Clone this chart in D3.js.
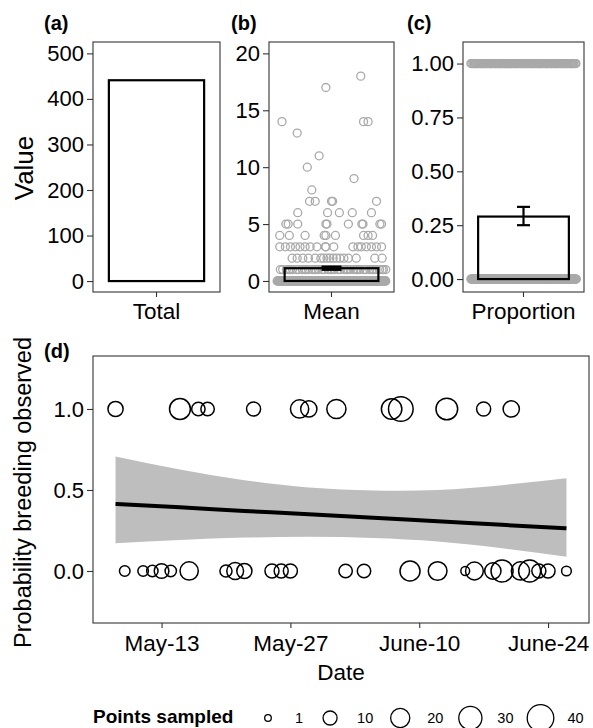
<!DOCTYPE html>
<html>
<head>
<meta charset="utf-8">
<script src="https://cdn.jsdelivr.net/npm/d3@7"></script>
<style>
  body { margin: 0; background: #fff; }
  svg { display: block; font-family: "Liberation Sans", Arial, Helvetica, sans-serif; }
</style>
</head>
<body>
<div id="figure"></div>
<script>
// ---- data ----
const totalCategory = ["Total"];
const totalValue = [441];

const meanCategory = ["Mean"];
const meanValue = [1.12];
const meanLow = [0.98];
const meanHigh = [1.26];

const propCategory = ["Proportion"];
const propValue = [0.29];
const propLow = [0.25];
const propHigh = [0.335];

// panel (b): the sparse points (value, jitter in -1..1 across the band)
const meanPointValues = [
  2,2,2,2,2,2,2,2,2,2,2,2,2,2,2,2,2,
  3,3,3,3,3,3,3,3,3,3,3,3,3,3,3,3,3,3,
  4,4,4,4,4,4,4,4,4,
  5,5,5,5,5,5,5,5,5,5,
  6,6,6,6,6,
  7,7,7,7,7,
  8, 9, 10, 11, 13, 14, 14, 14, 17, 18
];
const meanPointJitter = [
  -0.70,-0.61,-0.51,-0.41,-0.29,-0.19,-0.14,-0.08,-0.03,0.03,0.09,0.15,0.22,0.30,0.44,0.77,0.90,
  -0.92,-0.82,-0.73,-0.64,-0.56,-0.47,-0.38,-0.26,-0.11,-0.10,0.04,0.38,0.47,0.53,0.62,0.71,0.80,0.89,
  -0.92,-0.75,-0.47,-0.13,-0.10,0.07,0.57,0.65,0.73,
  -0.81,-0.77,-0.60,-0.10,-0.08,0.30,0.54,0.56,0.86,0.89,
  -0.60,-0.07,0.14,0.37,0.71,
  -0.39,-0.29,0.00,0.02,0.80,
  -0.35, 0.40, -0.43, -0.22, -0.61, -0.88, 0.57, 0.65, -0.10, 0.52
];
// panel (b): the crowded rows, as value and number of points
const meanDenseValues = [0, 1];
const meanDenseCounts = [250, 42];

// panel (c): breeding observed (1) or not (0), number of points
const propDenseValues = [0, 1];
const propDenseCounts = [313, 128];

// panel (d)
const yesDates = ["2016-05-08","2016-05-15","2016-05-17","2016-05-18","2016-05-23","2016-05-28","2016-05-29",
                  "2016-06-01","2016-06-07","2016-06-08","2016-06-13","2016-06-17","2016-06-20"];
const yesSampled = [12, 24, 9, 9, 10, 18, 14, 20, 23, 34, 26, 10, 14];
const noDates = ["2016-05-09","2016-05-11","2016-05-12","2016-05-13","2016-05-14","2016-05-16","2016-05-20",
                 "2016-05-21","2016-05-22","2016-05-25","2016-05-26","2016-05-27","2016-06-02","2016-06-04",
                 "2016-06-09","2016-06-12","2016-06-15","2016-06-16","2016-06-18","2016-06-19","2016-06-21",
                 "2016-06-22","2016-06-23","2016-06-24","2016-06-26"];
const noSampled = [5, 5, 6, 11, 6, 18, 7, 15, 12, 10, 10, 10, 9, 9, 22, 19, 3, 17, 14, 27, 18, 27, 10, 10, 4];

const fitDates = ["2016-05-08","2016-05-15","2016-05-22","2016-05-29","2016-06-05","2016-06-12","2016-06-19","2016-06-26"];
const fitProb = [0.414, 0.393, 0.371, 0.350, 0.328, 0.307, 0.285, 0.264];
const fitHigh = [0.706, 0.626, 0.560, 0.515, 0.497, 0.500, 0.530, 0.572];
const fitLow  = [0.171, 0.192, 0.206, 0.211, 0.204, 0.182, 0.140, 0.088];

const dateTicks = ["2016-05-13","2016-05-27","2016-06-10","2016-06-24"];
const sizeBreaks = [1, 10, 20, 30, 40];

// ---- layout ----
const largeur = 593, hauteur = 728;
const haut = {y0: 42, y1: 292};
const cadres = {
  a: {x0: 93, x1: 220},
  b: {x0: 269, x1: 394},
  c: {x0: 463, x1: 584}
};
const bas = {x0: 93, x1: 589, y0: 356, y1: 623};
const gris = "#a9a9a9";

const svg = d3.select("#figure").append("svg")
  .attr("width", largeur).attr("height", hauteur);

const parseDate = d3.timeParse("%Y-%m-%d");

// regular spread for the crowded rows (horizontal placement only)
const etaler = i => ((i * 0.6180339887 + 0.31) % 1) * 2 - 1;

function styliserAxe(g, taille) {
  g.select(".domain").remove();
  g.selectAll(".tick line").attr("stroke", "#333").attr("stroke-width", 1.1);
  g.selectAll(".tick text").attr("fill", "#000").style("font-size", taille + "px");
}

function cadre(x0, x1, y0, y1) {
  svg.append("rect")
    .attr("x", x0).attr("y", y0)
    .attr("width", x1 - x0).attr("height", y1 - y0)
    .attr("fill", "none").attr("stroke", "#333").attr("stroke-width", 1.1);
}

function etiquette(txt, x, y) {
  svg.append("text").attr("x", x).attr("y", y)
    .style("font-size", "20px").style("font-weight", "bold")
    .text(txt);
}

// builds one of the three top panels
function panneauHaut(p, categories, yDomaine, yTicks, yFormat) {
  const x = d3.scaleBand().domain(categories).range([p.x0, p.x1])
    .paddingInner(0.1).paddingOuter(0.15);
  const y = d3.scaleLinear().domain(yDomaine).range([haut.y1, haut.y0]);

  svg.append("g").attr("transform", `translate(${p.x0},0)`)
    .call(d3.axisLeft(y).tickValues(yTicks).tickFormat(yFormat).tickSize(6).tickPadding(3))
    .call(g => styliserAxe(g, 22));
  svg.append("g").attr("transform", `translate(0,${haut.y1})`)
    .call(d3.axisBottom(x).tickSize(5).tickPadding(6))
    .call(g => styliserAxe(g, 22.5));
  return {x, y};
}

function barre(sc, cat, val) {
  svg.append("rect")
    .attr("x", sc.x(cat)).attr("width", sc.x.bandwidth())
    .attr("y", sc.y(val)).attr("height", sc.y(0) - sc.y(val))
    .attr("fill", "none").attr("stroke", "#000").attr("stroke-width", 2.2);
}

function barreErreur(sc, cat, lo, hi, demi) {
  const cx = sc.x(cat) + sc.x.bandwidth() / 2;
  const g = svg.append("g").attr("stroke", "#000").attr("stroke-width", 2.2);
  g.append("line").attr("x1", cx).attr("x2", cx).attr("y1", sc.y(lo)).attr("y2", sc.y(hi));
  [lo, hi].forEach(v => g.append("line")
    .attr("x1", cx - demi).attr("x2", cx + demi).attr("y1", sc.y(v)).attr("y2", sc.y(v)));
}

function points(sc, cat, valeurs, jitters) {
  const cx = sc.x(cat) + sc.x.bandwidth() / 2;
  const demi = sc.x.bandwidth() * 0.6;
  svg.append("g").selectAll("circle")
    .data(valeurs.map((v, i) => ({v, j: jitters[i]})))
    .join("circle")
    .attr("cx", d => cx + d.j * demi)
    .attr("cy", d => sc.y(d.v))
    .attr("r", 4)
    .attr("fill", "none").attr("stroke", gris).attr("stroke-width", 1.3);
}

function pointsDenses(sc, cat, valeurs, comptes) {
  const v = [], j = [];
  valeurs.forEach((val, k) => {
    for (let i = 0; i < comptes[k]; i++) { v.push(val); j.push(0.97 * etaler(i + k * 7)); }
  });
  points(sc, cat, v, j);
}

// (a) total
const sa = panneauHaut(cadres.a, totalCategory, [-24, 525], [0, 100, 200, 300, 400, 500], d3.format("d"));
barre(sa, totalCategory[0], totalValue[0]);
cadre(cadres.a.x0, cadres.a.x1, haut.y0, haut.y1);

// (b) mean
const sb = panneauHaut(cadres.b, meanCategory, [-0.97, 21], [0, 5, 10, 15, 20], d3.format("d"));
pointsDenses(sb, meanCategory[0], meanDenseValues, meanDenseCounts);
points(sb, meanCategory[0], meanPointValues, meanPointJitter);
barre(sb, meanCategory[0], meanValue[0]);
barreErreur(sb, meanCategory[0], meanLow[0], meanHigh[0], 10);
cadre(cadres.b.x0, cadres.b.x1, haut.y0, haut.y1);

// (c) proportion
const scp = panneauHaut(cadres.c, propCategory, [-0.06, 1.1], [0, 0.25, 0.5, 0.75, 1], d3.format(".2f"));
pointsDenses(scp, propCategory[0], propDenseValues, propDenseCounts);
barre(scp, propCategory[0], propValue[0]);
barreErreur(scp, propCategory[0], propLow[0], propHigh[0], 6.5);
cadre(cadres.c.x0, cadres.c.x1, haut.y0, haut.y1);

etiquette("(a)", 44, 30);
etiquette("(b)", 231, 30);
etiquette("(c)", 407, 30);

svg.append("text")
  .attr("transform", `translate(33,${(haut.y0 + haut.y1) / 2 + 1}) rotate(-90)`)
  .attr("text-anchor", "middle").style("font-size", "26px")
  .text("Value");

// (d) probability of breeding vs date
const dates = fitDates.map(parseDate);
const [dMin, dMax] = d3.extent(dates);
const marge = (dMax - dMin) * 0.05;
const x = d3.scaleTime()
  .domain([new Date(+dMin - marge), new Date(+dMax + marge)])
  .range([bas.x0, bas.x1]);
const y = d3.scaleLinear().domain([-0.321, 1.327]).range([bas.y1, bas.y0]);
const rayon = d3.scaleRadial().domain([1, 40]).range([3.3, 13.3]);

const ajust = fitDates.map((d, i) => ({date: dates[i], p: fitProb[i], lo: fitLow[i], hi: fitHigh[i]}));

svg.append("path")
  .datum(ajust)
  .attr("fill", "#bebebe")
  .attr("d", d3.area().curve(d3.curveNatural)
    .x(d => x(d.date)).y0(d => y(d.lo)).y1(d => y(d.hi)));

svg.append("path")
  .datum(ajust)
  .attr("fill", "none").attr("stroke", "#000").attr("stroke-width", 4)
  .attr("d", d3.line().curve(d3.curveNatural).x(d => x(d.date)).y(d => y(d.p)));

const obs = [
  ...yesDates.map((d, i) => ({date: parseDate(d), val: 1, n: yesSampled[i]})),
  ...noDates.map((d, i) => ({date: parseDate(d), val: 0, n: noSampled[i]}))
];
svg.append("g").selectAll("circle")
  .data(obs)
  .join("circle")
  .attr("cx", d => x(d.date))
  .attr("cy", d => y(d.val))
  .attr("r", d => rayon(d.n))
  .attr("fill", "none").attr("stroke", "#000").attr("stroke-width", 1.5);

svg.append("g").attr("transform", `translate(${bas.x0},0)`)
  .call(d3.axisLeft(y).tickValues([0, 0.5, 1]).tickFormat(d3.format(".1f")).tickSize(6).tickPadding(3))
  .call(g => styliserAxe(g, 22));
svg.append("g").attr("transform", `translate(0,${bas.y1})`)
  .call(d3.axisBottom(x).tickValues(dateTicks.map(parseDate))
    .tickFormat(d3.timeFormat("%B-%d")).tickSize(5).tickPadding(7))
  .call(g => styliserAxe(g, 22.5));
cadre(bas.x0, bas.x1, bas.y0, bas.y1);

etiquette("(d)", 44, 358);

svg.append("text")
  .attr("transform", `translate(31,${(bas.y0 + bas.y1) / 2 + 3}) rotate(-90)`)
  .attr("text-anchor", "middle").style("font-size", "23.5px")
  .text("Probability breeding observed");

svg.append("text")
  .attr("x", (bas.x0 + bas.x1) / 2).attr("y", 680)
  .attr("text-anchor", "middle").style("font-size", "22.5px")
  .text("Date");

// size legend
const legende = svg.append("g");
legende.append("text")
  .attr("x", 93).attr("y", 723)
  .style("font-size", "19px").style("font-weight", "bold")
  .text("Points sampled");
let curseur = 268;
sizeBreaks.forEach(n => {
  legende.append("circle")
    .attr("cx", curseur).attr("cy", 718).attr("r", rayon(n))
    .attr("fill", "none").attr("stroke", "#000").attr("stroke-width", 1.3);
  const t = legende.append("text")
    .attr("x", curseur + 27).attr("y", 723)
    .style("font-size", "14.5px")
    .text(n);
  curseur += 27 + t.node().getComputedTextLength() + 27;
});
</script>
</body>
</html>
